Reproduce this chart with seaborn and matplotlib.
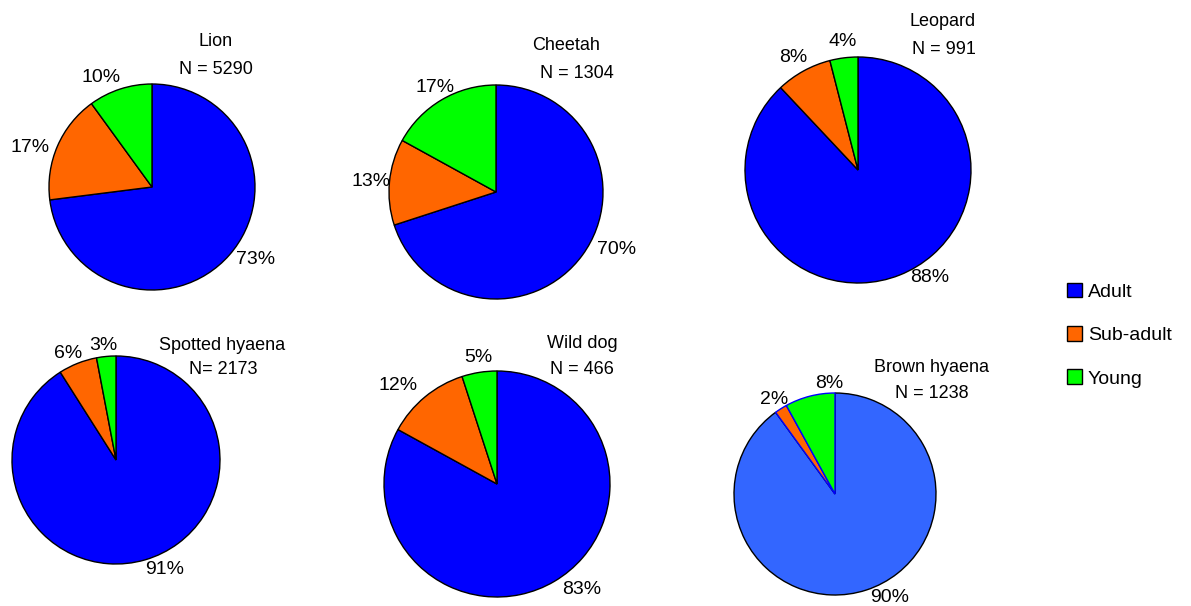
import matplotlib
matplotlib.use('Agg')
import matplotlib.pyplot as plt
import seaborn as sns

# ---- data ----
categories = ['Adult', 'Sub-adult', 'Young']
species = ['Lion', 'Cheetah', 'Leopard', 'Spotted hyaena', 'Wild dog', 'Brown hyaena']
n_labels = ['N = 5290', 'N = 1304', 'N = 991', 'N= 2173', 'N = 466', 'N = 1238']
adult = [73, 70, 88, 91, 83, 90]
sub_adult = [17, 13, 8, 6, 12, 2]
young = [10, 17, 4, 3, 5, 8]

# ---- styling / layout (pixel coordinates, y from top) ----
W, H = 1191, 606
centers = [(152, 187), (496, 192), (858, 170), (116, 460), (497, 484), (835, 494)]
radii = [103, 107, 113, 104, 113, 101]
title_pos = [(216, 42), (566, 45), (943, 22), (222, 345), (582, 343), (931, 367)]
n_pos = [(216, 69), (577, 73), (944, 50), (223, 370), (582, 370), (932, 394)]
# label positions for Adult, Sub-adult, Young percentages
pct_pos = [
    [(256, 259), (30, 148), (101, 77)],
    [(617, 249), (371, 181), (435, 88)],
    [(930, 277), (793, 58), (843, 42)],
    [(165, 570), (68, 353), (103, 346)],
    [(582, 590), (398, 385), (478, 357)],
    [(890, 598), (774, 399), (829, 383)],
]
colors = ['#0000FF', '#FF6600', '#00FF00']
brown_adult = '#3366FF'

sns.set_theme(style='white')
plt.rcParams['font.family'] = ['Liberation Sans', 'DejaVu Sans']
plt.rcParams['text.color'] = 'black'

fig = plt.figure(figsize=(W / 100, H / 100), dpi=100)
ax = fig.add_axes([0, 0, 1, 1])

first_wedges = None
for i, sp in enumerate(species):
    vals = [adult[i], sub_adult[i], young[i]]
    cols = list(colors)
    if sp == 'Brown hyaena':
        cols[0] = brown_adult
    cx, cy = centers[i]
    wedges, texts, autotexts = ax.pie(
        vals, colors=cols, startangle=90, counterclock=False,
        center=(cx, H - cy), radius=radii[i],
        autopct='%1.0f%%', pctdistance=1.2,
        wedgeprops=dict(edgecolor='black', linewidth=1),
        textprops=dict(fontsize=14, color='black'))
    for t, (px, py) in zip(autotexts, pct_pos[i]):
        t.set_position((px, H - py))
        t.set_ha('center')
        t.set_va('center')
    if sp == 'Brown hyaena':
        wedges[1].set_edgecolor('#0000FF')
        wedges[2].set_edgecolor('#0000FF')
    if first_wedges is None:
        first_wedges = wedges
    tx, ty = title_pos[i]
    ax.text(tx, H - ty, sp, ha='center', va='center', fontsize=13, color='black')
    nx, ny = n_pos[i]
    ax.text(nx, H - ny, n_labels[i], ha='center', va='center', fontsize=13, color='black')

ax.set_xlim(0, W)
ax.set_ylim(0, H)
ax.set_aspect('equal')
ax.axis('off')

fig.legend(first_wedges, categories, loc='upper left',
           bbox_to_anchor=(1049 / W, 1 - 265 / H), frameon=False,
           handlelength=0.8, handleheight=0.8, labelspacing=1.3,
           handletextpad=0.3, fontsize=14, labelcolor='black')

fig.savefig('out.png', dpi=100)
